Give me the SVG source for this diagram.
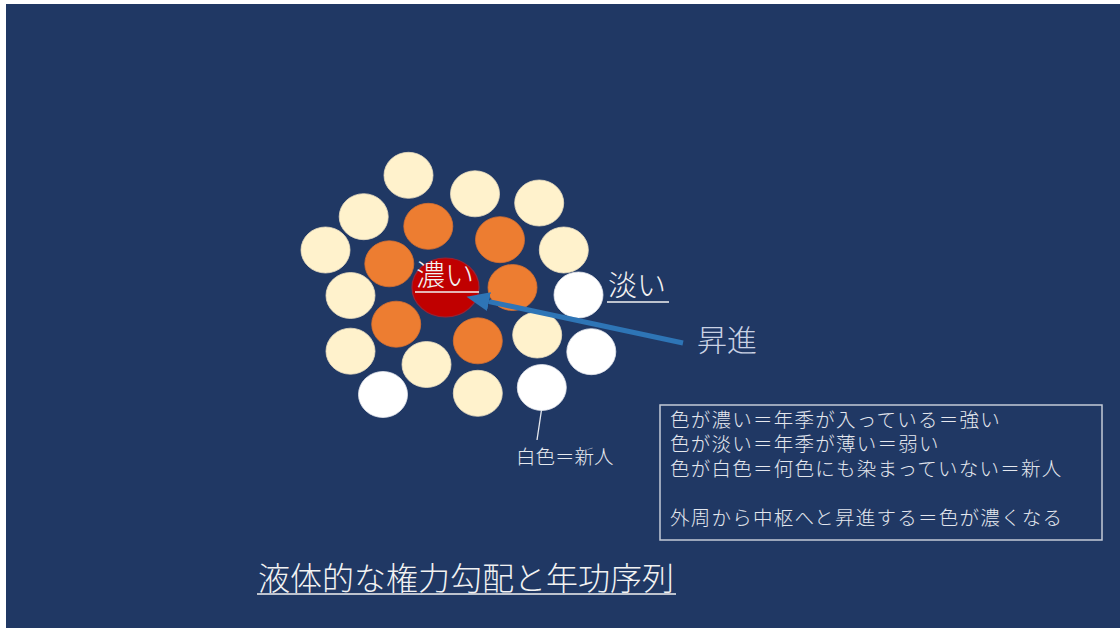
<svg xmlns="http://www.w3.org/2000/svg" width="1120" height="628" viewBox="0 0 1120 628">
<style>
.bg{fill:#203864}
.cream{fill:#FFF2CC;stroke:#E8DDC0;stroke-width:0.8}
.orange{fill:#ED7D31;stroke:#D87030;stroke-width:0.8}
.white{fill:#FFFFFF;stroke:#E6E9EF;stroke-width:0.8}
.red{fill:#C00000;stroke:#9B2335;stroke-width:1.2}
.t{font-family:"Noto Sans CJK JP","Noto Sans CJK SC",sans-serif;font-weight:300;fill:#F2F2F2}
.ul{stroke:#F2F2F2;stroke-width:1.6}
.box{fill:none;stroke:#C3CAD6;stroke-width:1.5}
.bt{font-family:"Noto Sans CJK JP","Noto Sans CJK SC",sans-serif;font-weight:300;fill:#E4E7EE;font-size:19.5px;letter-spacing:1.25px}
.arrow{stroke:#2E75B6;stroke-width:5;fill:none}
</style>
<defs>
<marker id="ah" markerUnits="userSpaceOnUse" markerWidth="24" markerHeight="20" viewBox="0 -10 24 20" refX="0" refY="0" orient="auto">
<path d="M0,-9.5 L23,0 L0,9.5 z" fill="#2E75B6"/>
</marker>
</defs>
<rect class="bg" x="6" y="4" width="1114" height="624"/>

<g id="cream-circles">
<ellipse id="c1" class="cream" cx="408.5" cy="175.3" rx="24.5" ry="23"/>
<ellipse id="c2" class="cream" cx="475" cy="193.8" rx="24.5" ry="23"/>
<ellipse id="c3" class="cream" cx="539.2" cy="203" rx="24.5" ry="23"/>
<ellipse id="c4" class="cream" cx="363.7" cy="216.7" rx="24.5" ry="23"/>
<ellipse id="c5" class="cream" cx="325.5" cy="250" rx="24.5" ry="23"/>
<ellipse id="c6" class="cream" cx="563.8" cy="250" rx="24.5" ry="23"/>
<ellipse id="c7" class="cream" cx="350.5" cy="295.5" rx="24.5" ry="23"/>
<ellipse id="c8" class="cream" cx="350.5" cy="351.2" rx="24.5" ry="23"/>
<ellipse id="c9" class="cream" cx="426.5" cy="364.5" rx="24.5" ry="23"/>
<ellipse id="c10" class="cream" cx="537.2" cy="335" rx="24.5" ry="23"/>
<ellipse id="c11" class="cream" cx="477.8" cy="393.3" rx="24.5" ry="23"/>
</g>
<g id="orange-circles">
<ellipse id="o1" class="orange" cx="428.3" cy="226.3" rx="24.5" ry="23"/>
<ellipse id="o2" class="orange" cx="500" cy="239.7" rx="24.5" ry="23"/>
<ellipse id="o3" class="orange" cx="389.3" cy="263.8" rx="24.5" ry="23"/>
<ellipse id="o4" class="orange" cx="512.5" cy="287.5" rx="24.5" ry="23"/>
<ellipse id="o5" class="orange" cx="396.2" cy="324.2" rx="24.5" ry="23"/>
<ellipse id="o6" class="orange" cx="477.8" cy="340.8" rx="24.5" ry="23"/>
</g>
<g id="white-circles">
<ellipse id="w1" class="white" cx="578.5" cy="295" rx="24.5" ry="23"/>
<ellipse id="w2" class="white" cx="591.3" cy="351.7" rx="24.5" ry="23"/>
<ellipse id="w3" class="white" cx="383" cy="394.5" rx="24.5" ry="23"/>
<ellipse id="w4" class="white" cx="541.8" cy="387.5" rx="24.5" ry="23"/>
</g>
<g id="center-node">
<ellipse class="red" cx="445.5" cy="287.5" rx="33.5" ry="29.5"/>
<text class="t" x="416" y="286" font-size="29">濃い</text>
<line class="ul" x1="415" y1="292" x2="479" y2="292"/>
</g>

<g id="connectors">
<line class="arrow" x1="683" y1="343" x2="489" y2="301.6" marker-end="url(#ah)"/>
<line x1="541.5" y1="410" x2="537" y2="440" stroke="#E6E9EF" stroke-width="1.3"/>
</g>

<g id="label-awai">
<text class="t" x="608" y="296" font-size="29">淡い</text>
<line class="ul" x1="607" y1="302" x2="669" y2="302"/>
</g>
<g id="label-shoushin">
<text class="t" x="697" y="351" font-size="30" style="fill:#CAD2E4">昇進</text>
</g>
<g id="label-shinjin">
<text class="t" x="516" y="464" font-size="19.5" style="fill:#E6E9EF">白色＝新人</text>
</g>

<g id="legend">
<rect class="box" x="660" y="405" width="442" height="135"/>
<text class="bt" x="670" y="427">色が濃い＝年季が入っている＝強い</text>
<text class="bt" x="670" y="451">色が淡い＝年季が薄い＝弱い</text>
<text class="bt" x="670" y="476">色が白色＝何色にも染まっていない＝新人</text>
<text class="bt" x="670" y="525">外周から中枢へと昇進する＝色が濃くなる</text>
</g>

<g id="title">
<text class="t" x="258" y="590" font-size="32">液体的な権力勾配と年功序列</text>
<line class="ul" x1="257" y1="594" x2="676" y2="594"/>
</g>
</svg>
